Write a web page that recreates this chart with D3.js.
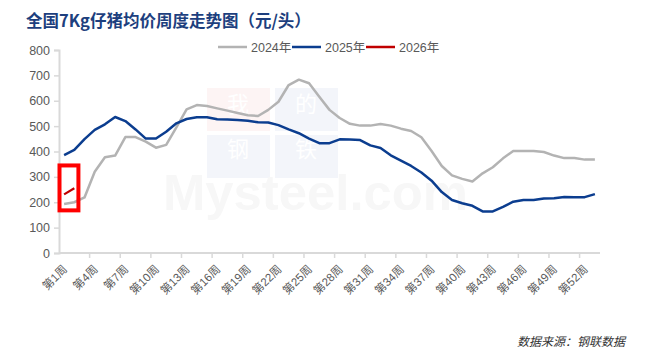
<!DOCTYPE html>
<html><head><meta charset="utf-8">
<script src="https://cdn.jsdelivr.net/npm/d3@7"></script>
<style>
html,body{margin:0;padding:0;background:#fff;}
svg{display:block;}
</style></head>
<body>
<div id="chart"></div>
<script>
const title = "全国7Kg仔猪均价周度走势图（元/头）";
const source = "数据来源：钢联数据";
const weeks = ["第1周","第2周","第3周","第4周","第5周","第6周","第7周","第8周","第9周","第10周",
"第11周","第12周","第13周","第14周","第15周","第16周","第17周","第18周","第19周","第20周",
"第21周","第22周","第23周","第24周","第25周","第26周","第27周","第28周","第29周","第30周",
"第31周","第32周","第33周","第34周","第35周","第36周","第37周","第38周","第39周","第40周",
"第41周","第42周","第43周","第44周","第45周","第46周","第47周","第48周","第49周","第50周",
"第51周","第52周","第53周"];
const tickLabels = ["第1周","第4周","第7周","第10周","第13周","第16周","第19周","第22周","第25周",
"第28周","第31周","第34周","第37周","第40周","第43周","第46周","第49周","第52周"];
const yTicks = [0,100,200,300,400,500,600,700,800];
const seriesNames = ["2024年","2025年","2026年"];
const v2024 = [193,200,219,320,377,384,457,457,439,415,426,495,566,583,579,570,561,552,543,540,
564,596,662,683,669,616,564,532,509,502,502,508,502,490,481,456,402,343,306,292,
282,314,338,373,402,402,402,398,384,374,374,368,368];
const v2025 = [386,406,449,485,507,536,520,487,451,451,478,511,528,535,535,527,526,524,521,515,
514,504,487,472,451,433,433,448,447,445,424,414,385,364,343,317,285,240,209,196,
186,164,164,182,202,209,209,215,216,221,220,220,232];
const v2026 = [231,255];
const colors = ["#b3b3b3","#0b3d8f","#c00000"];
const highlightWeeks = ["第1周","第2周"];
const highlightRange = [168,345];

const W = 657, H = 364;
const svg = d3.select("#chart").append("svg").attr("width", W).attr("height", H);
const font = "'Liberation Sans','Noto Sans CJK SC',Arial,sans-serif";

const x = d3.scaleBand().domain(weeks).range([59, 600]).padding(0);
const y = d3.scaleLinear().domain([0, 800]).range([253, 50]);
const cx = d => x(d) + x.bandwidth()/2;

// watermark (very faint)
const wm = svg.append("g");
const wmBlocks = [
  {x0:207,y0:88,c:"#fdf4f4",t:"我",b:112},{x0:275,y0:88,c:"#f3f5fa",t:"的",b:112},
  {x0:207,y0:135,c:"#f3f5fa",t:"钢",b:157},{x0:275,y0:135,c:"#f3f5fa",t:"铁",b:157}];
wmBlocks.forEach(b=>{
  wm.append("rect").attr("x",b.x0).attr("y",b.y0).attr("width",63).attr("height",43).attr("fill",b.c);
  wm.append("text").attr("x",b.x0+31).attr("y",b.b).attr("text-anchor","middle")
    .attr("font-family","'Noto Sans CJK SC'").attr("font-size",22).attr("fill","#ffffff").text(b.t);
});
wm.append("text").attr("x",163).attr("y",210).attr("font-family","'Liberation Sans',Arial,sans-serif")
  .attr("font-weight","bold").attr("font-size",46).attr("fill","#f7f7f7").attr("textLength",305)
  .attr("lengthAdjust","spacingAndGlyphs").attr("transform","translate(0,-21) scale(1,1.1)").text("Mysteel.com");

// title
svg.append("text").attr("x",26).attr("y",27).attr("font-family","'Noto Sans CJK SC',sans-serif")
  .attr("font-weight","bold").attr("font-size",16.5).attr("fill","#1d3f7e").text(title);

// y axis
const yAxis = svg.append("g").attr("transform","translate(59,0)")
  .call(d3.axisLeft(y).tickValues(yTicks).tickSize(5).tickPadding(4));
yAxis.select(".domain").attr("stroke","#d9d9d9").attr("stroke-width",2);
yAxis.selectAll(".tick line").attr("stroke","#d9d9d9").attr("stroke-width",1.5);
yAxis.selectAll(".tick text").attr("fill","#595959").attr("font-size",12.5).attr("font-family",font);

// x axis
const xg = svg.append("g").attr("transform","translate(0,253)");
xg.append("line").attr("x1",59).attr("x2",600).attr("y1",0).attr("y2",0)
  .attr("stroke","#d9d9d9").attr("stroke-width",2);
xg.selectAll("line.tk").data(tickLabels.slice(1)).join("line").attr("class","tk")
  .attr("x1",d=>x(d)).attr("x2",d=>x(d)).attr("y1",0).attr("y2",5)
  .attr("stroke","#d9d9d9").attr("stroke-width",1.5);
xg.selectAll("text").data(tickLabels).join("text")
  .attr("transform",d=>`translate(${cx(d)+1},${14}) rotate(-45)`)
  .attr("text-anchor","end").attr("dy","0.35em")
  .attr("font-size",11.5).attr("font-family",font).attr("fill","#595959").text(d=>d);

// lines
const line = d3.line().x((d,i)=>cx(weeks[i])).y(d=>y(d));
[v2024, v2025, v2026].forEach((vals,k)=>{
  svg.append("path").datum(vals).attr("d",line).attr("fill","none")
    .attr("stroke",colors[k]).attr("stroke-width",k===2?2.2:2.5).attr("stroke-linejoin","round");
});

// highlight box
svg.append("rect")
  .attr("x", x(highlightWeeks[0])+0.5)
  .attr("y", y(highlightRange[1]))
  .attr("width", x(highlightWeeks[1]) + x.bandwidth() - x(highlightWeeks[0]) - 1.5)
  .attr("height", y(highlightRange[0]) - y(highlightRange[1]))
  .attr("fill","none").attr("stroke","#ff0000").attr("stroke-width",4);

// legend
const lg = svg.append("g");
const lx = [218, 292, 366];
seriesNames.forEach((n,k)=>{
  lg.append("line").attr("x1",lx[k]).attr("x2",lx[k]+29).attr("y1",47).attr("y2",47)
    .attr("stroke",colors[k]).attr("stroke-width",2.5);
  lg.append("text").attr("x",lx[k]+33).attr("y",51.5).attr("font-size",12.5)
    .attr("font-family",font).attr("fill","#595959").text(n);
});

// source
svg.append("text").attr("x",517).attr("y",346).attr("font-size",12).attr("font-style","italic")
  .attr("font-family","'Noto Sans CJK SC',sans-serif").attr("fill","#333").text(source);
</script>
</body></html>
